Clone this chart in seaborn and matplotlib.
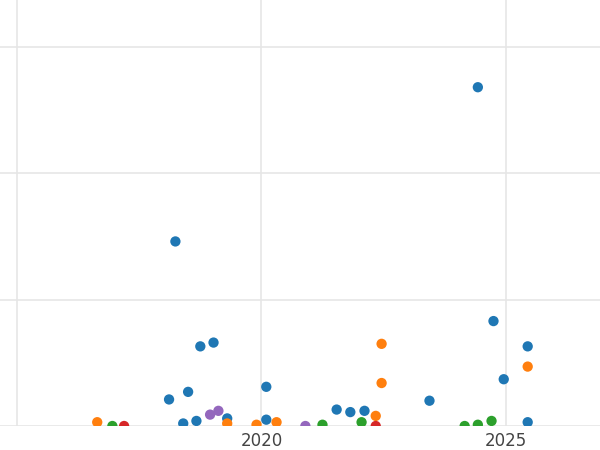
import matplotlib
matplotlib.use("Agg")
import matplotlib.pyplot as plt
import seaborn as sns
import pandas as pd

blue_x = [2018.24, 2018.11, 2018.40, 2018.50, 2018.67, 2018.75, 2019.02, 2019.30, 2020.10, 2020.10,
          2021.54, 2021.82, 2022.11, 2023.44, 2024.43, 2024.75, 2024.96, 2025.45, 2025.45]
blue_y = [1.46, 0.21, 0.02, 0.27, 0.04, 0.63, 0.66, 0.06, 0.31, 0.05,
          0.13, 0.11, 0.12, 0.20, 2.68, 0.83, 0.37, 0.63, 0.03]
orange_x = [2016.64, 2019.30, 2019.90, 2020.31, 2022.34, 2022.46, 2022.46, 2025.45]
orange_y = [0.03, 0.02, 0.01, 0.03, 0.08, 0.65, 0.34, 0.47]
green_x = [2016.95, 2021.25, 2022.05, 2024.16, 2024.43, 2024.71]
green_y = [0.0, 0.01, 0.03, 0.0, 0.01, 0.04]
red_x = [2017.19, 2022.34]
red_y = [0.0, 0.0]
purple_x = [2018.95, 2019.12, 2020.90]
purple_y = [0.09, 0.12, 0.0]

groups = [("blue", blue_x, blue_y), ("orange", orange_x, orange_y), ("green", green_x, green_y),
          ("red", red_x, red_y), ("purple", purple_x, purple_y)]
rows = []
for g, xs, ys in groups:
    rows += [{"year": x, "value": y, "group": g} for x, y in zip(xs, ys)]
df = pd.DataFrame(rows)

palette = {"blue": "#1f77b4", "orange": "#ff7f0e", "green": "#2ca02c", "red": "#d62728", "purple": "#9467bd"}

sns.set_style("white")
fig = plt.figure(figsize=(6, 4.5), dpi=100)
ax = fig.add_axes([0, 24/450, 1, 1 - 24/450])
sns.scatterplot(data=df, x="year", y="value", hue="group", palette=palette, s=55,
                edgecolor="none", legend=False, ax=ax, zorder=3)
ax.set_xlim(2014.65, 2026.93)
ax.set_ylim(0, 3.37)
ax.set_xticks([2015, 2020, 2025])
ax.set_xticklabels(["", "2020", "2025"])
ax.set_yticks([0, 1, 2, 3])
ax.set_yticklabels([])
ax.grid(True, color="#e6e6e6", linewidth=1.2)
for s in ax.spines.values():
    s.set_visible(False)
ax.tick_params(axis="x", length=0, labelsize=12, labelcolor="#444444", pad=4)
ax.tick_params(axis="y", length=0)
ax.set_xlabel("")
ax.set_ylabel("")
fig.savefig("out.png", dpi=100)
